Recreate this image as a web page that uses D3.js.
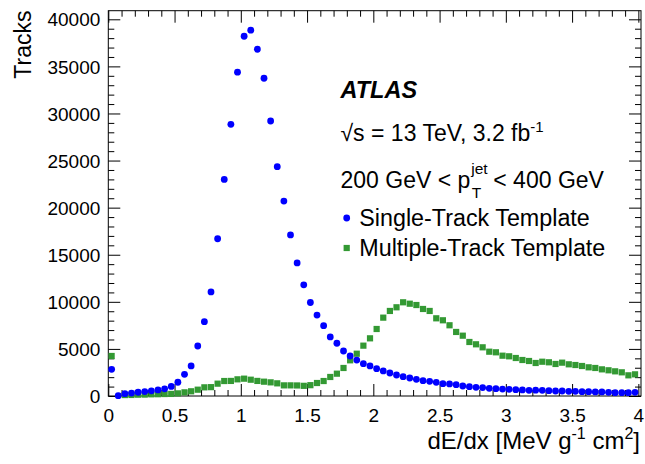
<!DOCTYPE html>
<html><head><meta charset="utf-8">
<script src="https://cdn.jsdelivr.net/npm/d3@7/dist/d3.min.js"></script>
<style>
body{margin:0;background:#fff}
text{font-family:"Liberation Sans",Arial,Helvetica,sans-serif;fill:#000}
</style>
</head><body>
<svg id="chart" width="645" height="464"></svg>
<script>
// ---- data ----
const binCenters = [0.025,0.075,0.125,0.175,0.225,0.275,0.325,0.375,0.425,0.475,
  0.525,0.575,0.625,0.675,0.725,0.775,0.825,0.875,0.925,0.975,
  1.025,1.075,1.125,1.175,1.225,1.275,1.325,1.375,1.425,1.475,
  1.525,1.575,1.625,1.675,1.725,1.775,1.825,1.875,1.925,1.975,
  2.025,2.075,2.125,2.175,2.225,2.275,2.325,2.375,2.425,2.475,
  2.525,2.575,2.625,2.675,2.725,2.775,2.825,2.875,2.925,2.975,
  3.025,3.075,3.125,3.175,3.225,3.275,3.325,3.375,3.425,3.475,
  3.525,3.575,3.625,3.675,3.725,3.775,3.825,3.875,3.925,3.975];
const singleTrack = [2830,30,250,310,400,470,550,640,760,1020,
  1460,2300,3190,5310,7890,11050,16700,23000,28850,34380,
  38200,38840,36820,33740,29200,24350,20700,17100,14130,11800,
  9930,8590,7470,6270,5600,4780,4250,3820,3430,3190,
  2900,2660,2440,2230,2050,1910,1770,1630,1560,1450,
  1310,1280,1200,1060,990,920,890,820,780,740,
  710,670,640,600,620,600,570,530,530,500,
  500,460,460,430,430,390,350,350,350,390];
const multiTrack = [4250,null,100,110,140,150,180,190,210,220,
  280,390,500,670,920,940,1310,1590,1600,1770,
  1840,1730,1600,1520,1450,1345,1130,1130,1120,1080,
  1150,1380,1590,2020,2370,2975,3790,4490,5345,6125,
  7115,8320,9030,9420,9950,9800,9660,9240,9030,8250,
  8040,7510,6800,6405,5735,5490,5170,4705,4640,4280,
  4215,4035,3823,3717,3505,3640,3580,3400,3540,3365,
  3290,3186,3045,2975,2830,2730,2620,2515,2195,2300];
const xMajorTicks = [0,0.5,1,1.5,2,2.5,3,3.5,4];
const xMinorTicks = [0.1,0.2,0.3,0.4,0.6,0.7,0.8,0.9,1.1,1.2,1.3,1.4,1.6,1.7,1.8,1.9,
  2.1,2.2,2.3,2.4,2.6,2.7,2.8,2.9,3.1,3.2,3.3,3.4,3.6,3.7,3.8,3.9];
const yMajorTicks = [0,5000,10000,15000,20000,25000,30000,35000,40000];
const yMinorTicks = [1000,2000,3000,4000,6000,7000,8000,9000,11000,12000,13000,14000,
  16000,17000,18000,19000,21000,22000,23000,24000,26000,27000,28000,29000,
  31000,32000,33000,34000,36000,37000,38000,39000];
const seriesNames = ["Single-Track Template","Multiple-Track Template"];
const seriesColors = ["#0000ff","#339933"];

// ---- layout ----
const L = 108.3, R = 641, T = 10.7, B = 396;
const svg = d3.select("#chart");
const x = d3.scaleLinear().domain([0, 4.02]).range([L, R]);
const y = d3.scaleLinear().domain([0, 40913]).range([B, T]);

function styleAxis(g){ g.select(".domain").remove(); g.selectAll("line").attr("stroke","#000").attr("stroke-width",1); }

// bottom
svg.append("g").attr("transform",`translate(0,${B})`)
  .call(d3.axisBottom(x).tickValues(xMajorTicks).tickSize(-12).tickFormat(d3.format("~g")))
  .call(styleAxis)
  .call(g=>g.selectAll("text").attr("y",25.5).attr("dy",null).attr("font-size",19)
     .attr("font-family","Liberation Sans, Arial, sans-serif").attr("fill","#000"));
svg.append("g").attr("transform",`translate(0,${B})`)
  .call(d3.axisBottom(x).tickValues(xMinorTicks).tickSize(-6).tickFormat(""))
  .call(styleAxis);
// top
svg.append("g").attr("transform",`translate(0,${T})`)
  .call(d3.axisTop(x).tickValues(xMajorTicks).tickSize(-12).tickFormat(""))
  .call(styleAxis);
svg.append("g").attr("transform",`translate(0,${T})`)
  .call(d3.axisTop(x).tickValues(xMinorTicks).tickSize(-6).tickFormat(""))
  .call(styleAxis);
// left
svg.append("g").attr("transform",`translate(${L},0)`)
  .call(d3.axisLeft(y).tickValues(yMajorTicks).tickSize(-12).tickFormat(d3.format("d")))
  .call(styleAxis)
  .call(g=>g.selectAll("text").attr("x",-8).attr("dy","0.35em").attr("font-size",19)
     .attr("font-family","Liberation Sans, Arial, sans-serif").attr("fill","#000"));
svg.append("g").attr("transform",`translate(${L},0)`)
  .call(d3.axisLeft(y).tickValues(yMinorTicks).tickSize(-6).tickFormat(""))
  .call(styleAxis);
// right
svg.append("g").attr("transform",`translate(${R},0)`)
  .call(d3.axisRight(y).tickValues(yMajorTicks).tickSize(-12).tickFormat(""))
  .call(styleAxis);
svg.append("g").attr("transform",`translate(${R},0)`)
  .call(d3.axisRight(y).tickValues(yMinorTicks).tickSize(-6).tickFormat(""))
  .call(styleAxis);

// frame
svg.append("rect").attr("x",L).attr("y",T).attr("width",R-L).attr("height",B-T)
  .attr("fill","none").attr("stroke","#000").attr("stroke-width",1);

// data
const multiData = binCenters.map((c,i)=>({x:c,v:multiTrack[i]})).filter(d=>d.v!==null);
const singleData = binCenters.map((c,i)=>({x:c,v:singleTrack[i]})).filter(d=>d.v!==null);
const sq = 6.2;
svg.append("g").selectAll("rect").data(multiData).join("rect")
  .attr("x",d=>x(d.x)-sq/2).attr("y",d=>y(d.v)-sq/2).attr("width",sq).attr("height",sq)
  .attr("fill",seriesColors[1]);
svg.append("g").selectAll("circle").data(singleData).join("circle")
  .attr("cx",d=>x(d.x)).attr("cy",d=>y(d.v)).attr("r",3.4).attr("fill",seriesColors[0]);

// axis titles
svg.append("text").attr("transform","translate(30.5,10.5) rotate(-90)")
  .attr("text-anchor","end").attr("font-size",23).text("Tracks");
const xt = svg.append("text").attr("x",640).attr("y",449).attr("text-anchor","end").attr("font-size",24);
xt.append("tspan").text("dE/dx [MeV g");
xt.append("tspan").attr("dy",-10).attr("font-size",16).text("-1");
xt.append("tspan").attr("dy",10).text(" cm");
xt.append("tspan").attr("dy",-10).attr("font-size",16).text("2");
xt.append("tspan").attr("dy",10).text("]");

// labels
svg.append("text").attr("x",340.5).attr("y",97.5).attr("font-size",23.5)
  .attr("font-weight","bold").attr("font-style","italic").text("ATLAS");
const l2 = svg.append("text").attr("x",340.5).attr("y",141).attr("font-size",23);
l2.append("tspan").text("\u221As = 13 TeV, 3.2 fb");
l2.append("tspan").attr("dy",-9).attr("font-size",15).text("-1");

const l3a = svg.append("text").attr("x",340.5).attr("y",187.5).attr("font-size",23).text("200 GeV < p");
const w3 = l3a.node().getComputedTextLength();
svg.append("text").attr("x",340.5+w3+1).attr("y",174).attr("font-size",15.5).text("jet");
svg.append("text").attr("x",340.5+w3+1.5).attr("y",198).attr("font-size",15.5).text("T");
svg.append("text").attr("x",340.5+w3+23).attr("y",187.5).attr("font-size",23).text("< 400 GeV");

// legend
svg.append("circle").attr("cx",346.7).attr("cy",218).attr("r",3.4).attr("fill",seriesColors[0]);
svg.append("text").attr("x",359.3).attr("y",225.5).attr("font-size",23.3).text(seriesNames[0]);
svg.append("rect").attr("x",346.7-3.1).attr("y",248-3.1).attr("width",6.2).attr("height",6.2).attr("fill",seriesColors[1]);
svg.append("text").attr("x",359.3).attr("y",255.5).attr("font-size",23.3).text(seriesNames[1]);
</script>
</body></html>
